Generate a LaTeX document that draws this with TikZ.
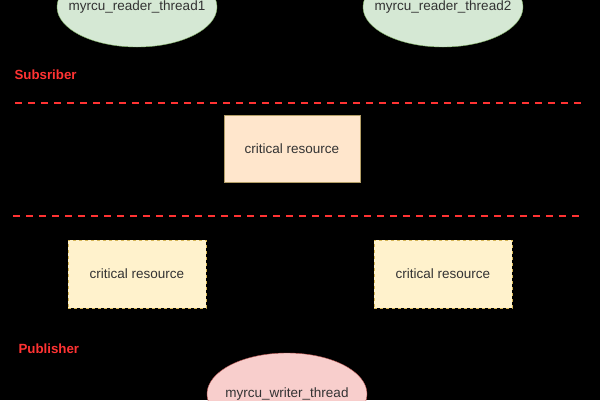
\documentclass[tikz,border=0pt]{standalone}
\usepackage{fontspec}
\setmainfont{Liberation Sans}
\usetikzlibrary{shapes.geometric}
\definecolor{readerfill}{HTML}{D5E8D4}
\definecolor{readerline}{HTML}{82B366}
\definecolor{writerfill}{HTML}{F8CECC}
\definecolor{writerline}{HTML}{B85450}
\definecolor{crfill}{HTML}{FFE6CC}
\definecolor{crline}{HTML}{D79B00}
\definecolor{copyfill}{HTML}{FFF2CC}
\definecolor{copyline}{HTML}{D6B656}
\definecolor{sepred}{HTML}{FF3333}
\definecolor{txt}{HTML}{333333}

\begin{document}
\begin{tikzpicture}[x=1pt, y=-1pt, font=\fontsize{13.5}{15}\selectfont]
                \tikzstyle{reader} = [ellipse, draw=readerline, fill=readerfill, minimum width=160pt, minimum height=80pt, inner xsep=-14pt, inner ysep=0pt, text=txt]
                \tikzstyle{writer} = [ellipse, draw=writerline, fill=writerfill, minimum width=160pt, minimum height=82pt, inner xsep=-14pt, inner ysep=0pt, text=txt]
                \tikzstyle{res} = [rectangle, draw=crline!60!black!60, fill=crfill, minimum width=136pt, minimum height=67pt, text=txt]
                \tikzstyle{rescopy} = [rectangle, draw=copyline, dashed, fill=copyfill, minimum width=138pt, minimum height=68pt, text=txt]
                \tikzstyle{role} = [anchor=west, text=sepred, font=\fontsize{13.3}{15}\selectfont\bfseries]
                \tikzstyle{sep} = [sepred, line width=2pt, dash pattern=on 7pt off 6pt]

                % background and frame
                \fill[black] (0,0) rectangle (600,400);
                \useasboundingbox (0,0) rectangle (600,400);
                \clip (0,0) rectangle (600,400);

                % Reader threads (top, green)
                \node[reader] (r1) at (137,7) {myrcu\_reader\_thread1};
                \node[reader] (r2) at (443,7) {myrcu\_reader\_thread2};

                % Subscriber side
                \node[role] (sub) at (11,75) {Subsriber};
                \draw[sep] (15,103) -- (583,103);

                % Shared resource
                \node[res] (cr) at (292,148.5) {critical resource};
                \draw[sep] (13,216) -- (582,216);

                % Copies (dashed border)
                \node[rescopy] (c1) at (137,274) {critical resource};
                \node[rescopy] (c2) at (443,274) {critical resource};

                % Publisher side
                \node[role] (pub) at (15,349) {Publisher};
                \node[writer] (w) at (287,394) {myrcu\_writer\_thread};
\end{tikzpicture}
\end{document}
